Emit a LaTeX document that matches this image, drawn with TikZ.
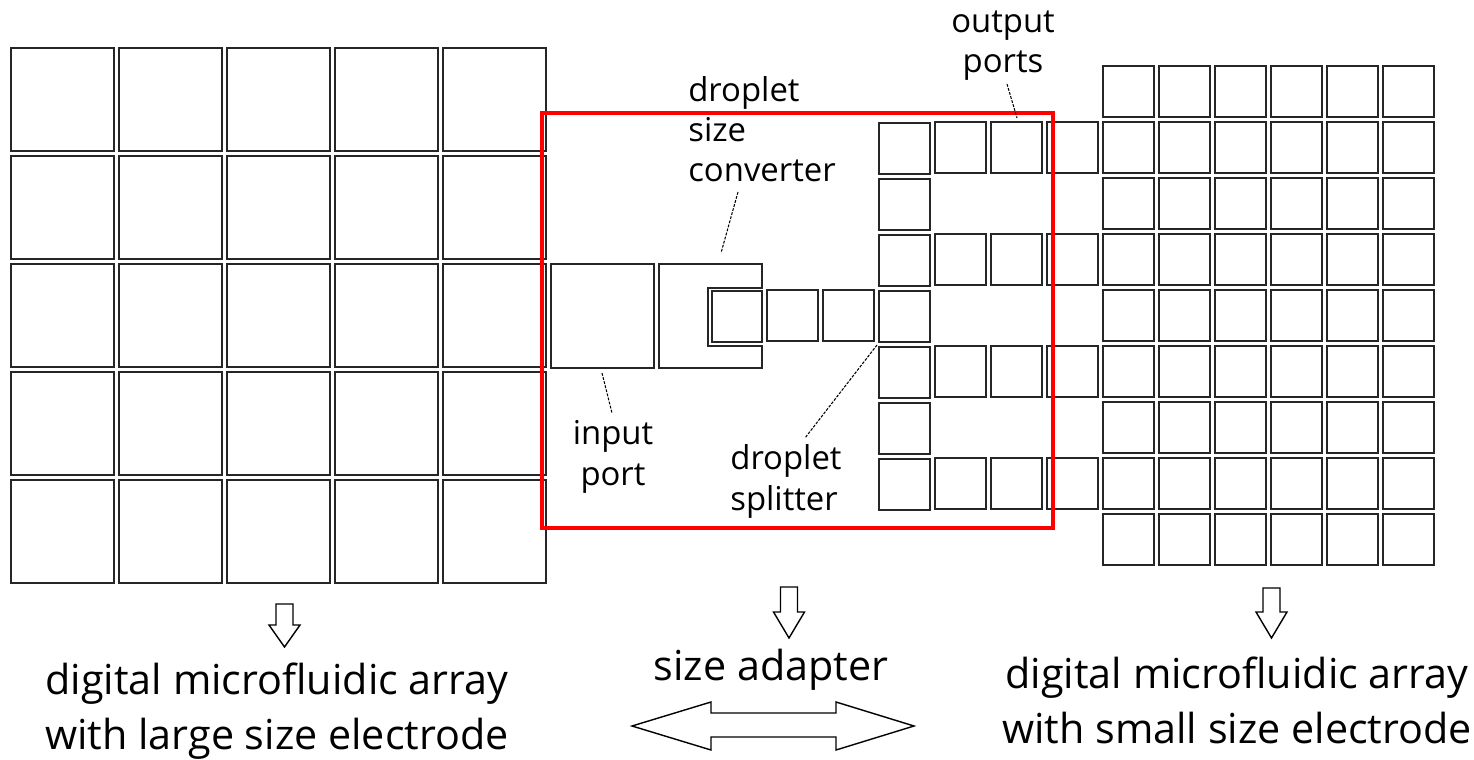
\documentclass[tikz,border=0pt]{standalone}
\usepackage{fontspec}
\setmainfont{Open Sans}

\tikzset{
  electrode/.style={draw=black!85, line width=1.05pt},
  adapterbox/.style={draw=red, line width=2.3pt},
  leader/.style={line width=0.6pt, dash pattern=on 1.6pt off 0.8pt},
  hollow/.style={draw=black, line width=0.8pt, fill=white, line join=miter},
  smalllabel/.style={font=\fontsize{18.7}{22.8}\selectfont, inner sep=0pt},
  biglabel/.style={font=\fontsize{23.5}{31.3}\selectfont, inner sep=0pt, align=center}
}

\begin{document}
\begin{tikzpicture}[x=0.02cm, y=-0.02cm]

  \useasboundingbox (0,0) rectangle (1474,760);

  % large electrode array
  \foreach \i in {0,...,4}
    \foreach \j in {0,...,4}
      \draw[electrode] (11+108*\i, 48+108*\j) rectangle ++(103,103);

  % input port and size converter
  \draw[electrode] (551,264) rectangle ++(103,104);
  \draw[electrode] (659,264) -- (762,264) -- (762,288) -- (708,288) -- (708,346)
    -- (762,346) -- (762,368) -- (659,368) -- cycle;
  \draw[electrode] (712,291) rectangle (762,342);

  % small electrodes: transport path and splitter column
  \foreach \c in {-2,-1}
    \draw[electrode] (879+56*\c, 290) rectangle ++(51,51);
  \foreach \r in {0,...,6}
    \draw[electrode] (879, 123+56*\r) rectangle ++(51,51);
  \foreach \c in {1,2,3}
    \foreach \r in {0,2,4,6}
      \draw[electrode] (879+56*\c, 122+56*\r) rectangle ++(51,51);

  % small electrode array
  \foreach \c in {4,...,9}
    \foreach \r in {-1,...,7}
      \draw[electrode] (879+56*\c, 122+56*\r) rectangle ++(51,51);

  % size adapter frame
  \draw[adapterbox] (542,113) rectangle (1053,528);

  % labels (base = last line)
  \node[smalllabel, align=center, anchor=base] (outlbl) at (1003,73) {output\\ports};
  \node[smalllabel, align=left, anchor=base west] (convlbl) at (688,182) {droplet\\size\\converter};
  \node[smalllabel, align=center, anchor=base] (inlbl) at (613,485) {input\\port};
  \node[smalllabel, align=left, anchor=base west] (splitlbl) at (730,510) {droplet\\splitter};

  % leader lines
  \coordinate (out-a) at (1007,84);
  \coordinate (out-b) at (1017,118);
  \coordinate (conv-a) at (738,192);
  \coordinate (conv-b) at (721,253);
  \coordinate (in-a) at (602,373);
  \coordinate (in-b) at (612,413);
  \coordinate (split-a) at (877,345);
  \coordinate (split-b) at (805,438);
  \draw[leader] (out-a) -- (out-b);
  \draw[leader] (conv-a) -- (conv-b);
  \draw[leader] (in-a) -- (in-b);
  \draw[leader] (split-a) -- (split-b);

  % down arrows
  \foreach \ax/\ay/\sl/\hl in {284.5/604/21/22, 789/587/25/26, 1271.5/588/24/26}
    \draw[hollow] (\ax-8.5,\ay) -- ++(17,0) -- ++(0,\sl) -- ++(7,0)
      -- (\ax,\ay+\sl+\hl) -- (\ax-15.5,\ay+\sl) -- ++(7,0) -- cycle;

  % captions
  \node[biglabel, anchor=base] (leftcap) at (277,749) {digital microfluidic array\\with large size electrode};
  \node[biglabel, anchor=base] (midcap) at (771,680) {size adapter};
  \node[biglabel, anchor=base] (rightcap) at (1237,743) {digital microfluidic array\\with small size electrode};

  % two-headed arrow
  \draw[hollow] (632,726) -- (711,702) -- (711,713) -- (836,713) -- (836,702)
    -- (914,726) -- (836,750) -- (836,737) -- (711,737) -- (711,750) -- cycle;

\end{tikzpicture}
\end{document}
